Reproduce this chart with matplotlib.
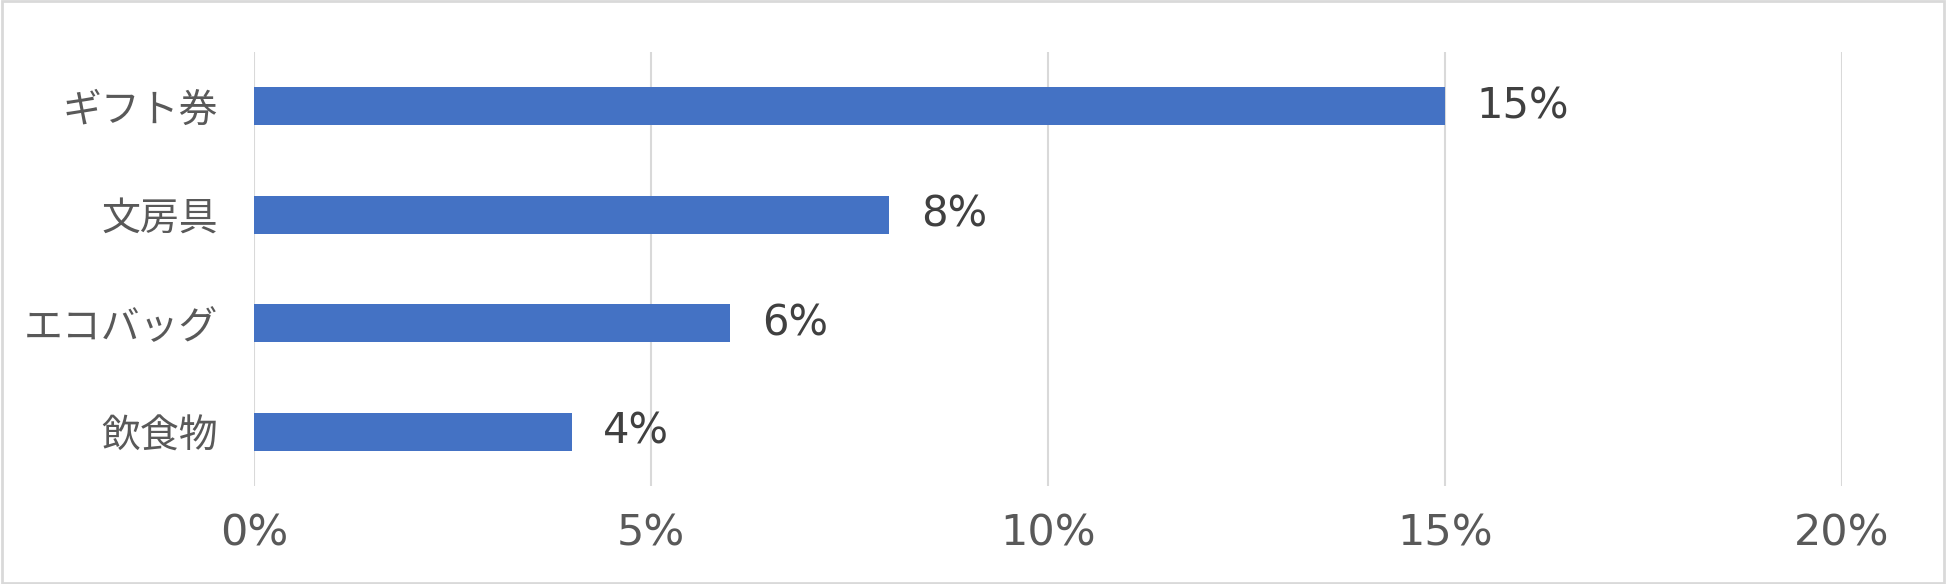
import matplotlib
matplotlib.use("Agg")
import matplotlib.pyplot as plt
from matplotlib.patches import Rectangle

plt.rcParams['font.family'] = ['Noto Sans CJK JP', 'DejaVu Sans']

# --- data (top to bottom) ---
categories = ["ギフト券", "文房具", "エコバッグ", "飲食物"]
values = [15, 8, 6, 4]
x_ticks = [0, 5, 10, 15, 20]
x_tick_labels = ["0%", "5%", "10%", "15%", "20%"]

bar_color = "#4472C4"
grid_color = "#D9D9D9"

fig = plt.figure(figsize=(19.46, 5.84), dpi=100)
ax = fig.add_axes([0.1305, 0.168, 0.816, 0.743])

ypos = list(range(len(categories)))
ax.barh(ypos, values, height=0.35, color=bar_color, zorder=3)

# value labels
for y, v in zip(ypos, values):
    ax.text(v + 0.4, y, f"{v}%", va="center", ha="left",
            fontsize=30, color="#404040", family="DejaVu Sans")

ax.set_xlim(0, 20)
ax.set_ylim(len(categories) - 0.5, -0.5)
ax.set_xticks(x_ticks)
ax.set_xticklabels(x_tick_labels, fontsize=31, color="#595959", family="DejaVu Sans")
ax.set_yticks(ypos)
ax.set_yticklabels(categories, fontsize=28, color="#595959")

ax.grid(axis="x", color=grid_color, linewidth=1.5, zorder=0)
ax.tick_params(axis="both", length=0)
ax.tick_params(axis="x", pad=19)
ax.tick_params(axis="y", pad=26)
for s in ax.spines.values():
    s.set_visible(False)

# --- figure border ---
fig.patches.append(Rectangle((0.001, 0.002), 0.998, 0.996, transform=fig.transFigure,
                             fill=False, edgecolor=grid_color, linewidth=2))

fig.savefig("out.png", dpi=100)
plt.close(fig)
